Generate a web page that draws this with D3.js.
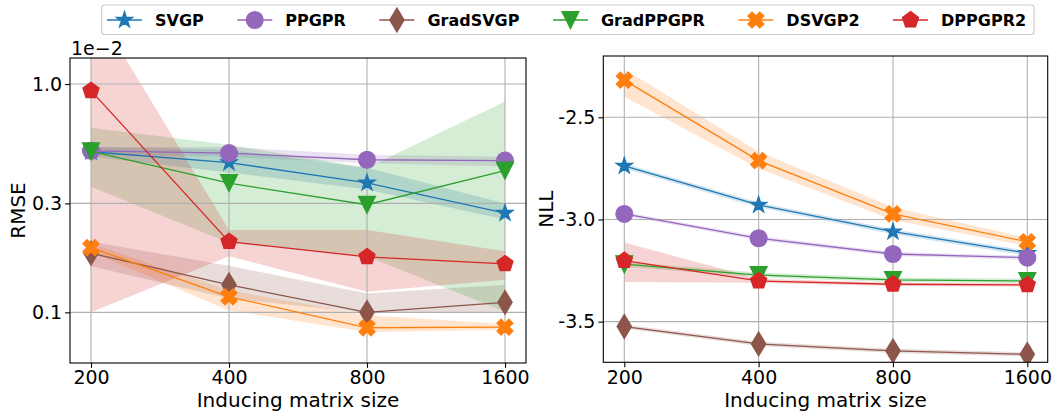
<!DOCTYPE html>
<html><head><meta charset="utf-8">
<script src="https://cdn.jsdelivr.net/npm/d3@7"></script>
<style>
  body { margin: 0; background: #fff; }
  svg { font-family: "DejaVu Sans", sans-serif; }
</style>
</head><body>
<svg id="chart" width="1056" height="413"></svg>
<script>
// Inducing matrix sizes on the x axis
const sizes = [200, 400, 800, 1600];
const sizeLabels = ["200", "400", "800", "1600"];

const methods = ["SVGP", "PPGPR", "GradSVGP", "GradPPGPR", "DSVGP2", "DPPGPR2"];
const colors = ["#1f77b4", "#9467bd", "#8c564b", "#2ca02c", "#ff7f0e", "#d62728"];
const markers = ["star", "circle", "thin_diamond", "tri_down", "x", "pentagon"];

// RMSE (in units of 1e-2): mean, lower and upper band
const svgpRmse = [0.505, 0.453, 0.369, 0.272];
const svgpRmseLo = [0.48, 0.41, 0.345, 0.255];
const svgpRmseHi = [0.53, 0.515, 0.43, 0.30];
const ppgprRmse = [0.51, 0.498, 0.466, 0.462];
const ppgprRmseLo = [0.49, 0.48, 0.45, 0.435];
const ppgprRmseHi = [0.53, 0.53, 0.49, 0.48];
const gradSvgpRmse = [0.1815, 0.132, 0.100, 0.1106];
const gradSvgpRmseLo = [0.159, 0.115, 0.0993, 0.1006];
const gradSvgpRmseHi = [0.204, 0.16, 0.121, 0.132];
const gradPpgprRmse = [0.507, 0.368, 0.296, 0.418];
const gradPpgprRmseLo = [0.355, 0.201, 0.176, 0.1006];
const gradPpgprRmseHi = [0.643, 0.542, 0.43, 0.839];
const dsvgp2Rmse = [0.192, 0.117, 0.0856, 0.0862];
const dsvgp2RmseLo = [0.184, 0.102, 0.082, 0.084];
const dsvgp2RmseHi = [0.20, 0.125, 0.097, 0.089];
const dppgpr2Rmse = [0.935, 0.204, 0.175, 0.163];
const dppgpr2RmseLo = [0.1, 0.176, 0.123, 0.139];
const dppgpr2RmseHi = [2.3, 0.2297, 0.2297, 0.185];

// NLL: mean, lower and upper band
const svgpNll = [-2.738, -2.929, -3.060, -3.165];
const svgpNllLo = [-2.750, -2.941, -3.072, -3.177];
const svgpNllHi = [-2.726, -2.917, -3.048, -3.153];
const ppgprNll = [-2.973, -3.092, -3.169, -3.187];
const ppgprNllLo = [-2.983, -3.102, -3.179, -3.197];
const ppgprNllHi = [-2.963, -3.082, -3.159, -3.177];
const gradSvgpNll = [-3.524, -3.609, -3.643, -3.660];
const gradSvgpNllLo = [-3.534, -3.619, -3.653, -3.670];
const gradSvgpNllHi = [-3.514, -3.599, -3.633, -3.650];
const gradPpgprNll = [-3.219, -3.272, -3.296, -3.301];
const gradPpgprNllLo = [-3.231, -3.284, -3.306, -3.311];
const gradPpgprNllHi = [-3.207, -3.260, -3.284, -3.289];
const dsvgp2Nll = [-2.318, -2.712, -2.973, -3.109];
const dsvgp2NllLo = [-2.399, -2.750, -3.002, -3.130];
const dsvgp2NllHi = [-2.264, -2.668, -2.940, -3.090];
const dppgpr2Nll = [-3.201, -3.301, -3.317, -3.320];
const dppgpr2NllLo = [-3.306, -3.310, -3.325, -3.328];
const dppgpr2NllHi = [-3.113, -3.290, -3.310, -3.312];

// Axis ticks
const rmseTicks = [1.0, 0.3, 0.1];
const rmseTickLabels = ["1.0", "0.3", "0.1"];
const rmseOffsetLabel = "1e\u22122";
const nllTicks = [-2.5, -3.0, -3.5];
const nllTickLabels = ["-2.5", "-3.0", "-3.5"];

const rmseSeries = [
  [svgpRmse, svgpRmseLo, svgpRmseHi],
  [ppgprRmse, ppgprRmseLo, ppgprRmseHi],
  [gradSvgpRmse, gradSvgpRmseLo, gradSvgpRmseHi],
  [gradPpgprRmse, gradPpgprRmseLo, gradPpgprRmseHi],
  [dsvgp2Rmse, dsvgp2RmseLo, dsvgp2RmseHi],
  [dppgpr2Rmse, dppgpr2RmseLo, dppgpr2RmseHi]
];
const nllSeries = [
  [svgpNll, svgpNllLo, svgpNllHi],
  [ppgprNll, ppgprNllLo, ppgprNllHi],
  [gradSvgpNll, gradSvgpNllLo, gradSvgpNllHi],
  [gradPpgprNll, gradPpgprNllLo, gradPpgprNllHi],
  [dsvgp2Nll, dsvgp2NllLo, dsvgp2NllHi],
  [dppgpr2Nll, dppgpr2NllLo, dppgpr2NllHi]
];

const MS = 16.7;   // marker size (px)
const MEW = 1.4;   // marker edge width

// Marker shapes centred on the origin
function markerPath(type, s) {
  const p = d3.path();
  const poly = pts => { pts.forEach((q, i) => i ? p.lineTo(q[0], q[1]) : p.moveTo(q[0], q[1])); p.closePath(); };
  if (type === "circle") {
    p.arc(0, 0, s / 2, 0, 2 * Math.PI);
  } else if (type === "star") {
    const R = s / 2, r = R * 0.381966, pts = [];
    for (let i = 0; i < 10; i++) {
      const a = -Math.PI / 2 + i * Math.PI / 5, rr = i % 2 ? r : R;
      pts.push([rr * Math.cos(a), rr * Math.sin(a)]);
    }
    poly(pts);
  } else if (type === "pentagon") {
    const R = s / 2, pts = [];
    for (let i = 0; i < 5; i++) {
      const a = -Math.PI / 2 + i * 2 * Math.PI / 5;
      pts.push([R * Math.cos(a), R * Math.sin(a)]);
    }
    poly(pts);
  } else if (type === "thin_diamond") {
    const h = s * Math.SQRT2 / 2, w = 0.6 * h;
    poly([[0, -h], [w, 0], [0, h], [-w, 0]]);
  } else if (type === "tri_down") {
    poly([[0, s / 2], [-s / 2, -s / 2], [s / 2, -s / 2]]);
  } else if (type === "x") {
    const a = s / 2, b = s / 6;
    const plus = [[b, -a], [b, -b], [a, -b], [a, b], [b, b], [b, a], [-b, a], [-b, b], [-a, b], [-a, -b], [-b, -b], [-b, -a]];
    const c = Math.SQRT1_2;
    poly(plus.map(([x, y]) => [(x - y) * c, (x + y) * c]));
  }
  return p.toString();
}

const svg = d3.select("#chart");

function drawPanel(cfg) {
  const { x, y, frame, series, ticks, tickLabels, yLabel, yLabelX, id } = cfg;
  const g = svg.append("g");

  g.append("clipPath").attr("id", id)
    .append("rect").attr("x", frame.l).attr("y", frame.t)
    .attr("width", frame.r - frame.l).attr("height", frame.b - frame.t);

  const plot = g.append("g").attr("clip-path", `url(#${id})`);

  // shaded bands
  const area = d3.area().x((d, i) => x(sizes[i])).y0(d => y(d[0])).y1(d => y(d[1]));
  series.forEach((s, k) => {
    const pts = sizes.map((_, i) => [s[1][i], s[2][i]]);
    plot.append("path").attr("d", area(pts))
      .attr("fill", colors[k]).attr("fill-opacity", 0.2).attr("stroke", "none");
  });

  // grid
  const grid = plot.append("g").attr("stroke", "#b0b0b0").attr("stroke-width", 1.1);
  sizes.forEach(v => grid.append("line").attr("x1", x(v)).attr("x2", x(v)).attr("y1", frame.t).attr("y2", frame.b));
  ticks.forEach(v => grid.append("line").attr("y1", y(v)).attr("y2", y(v)).attr("x1", frame.l).attr("x2", frame.r));

  // lines and markers
  const line = d3.line().x((d, i) => x(sizes[i])).y(d => y(d));
  series.forEach((s, k) => {
    plot.append("path").attr("d", line(s[0])).attr("fill", "none")
      .attr("stroke", colors[k]).attr("stroke-width", 1.3);
    const mp = markerPath(markers[k], MS);
    s[0].forEach((v, i) => {
      plot.append("path").attr("d", mp)
        .attr("transform", `translate(${x(sizes[i])},${y(v)})`)
        .attr("fill", colors[k]).attr("stroke", colors[k]).attr("stroke-width", MEW)
        .attr("stroke-linejoin", "miter");
    });
  });

  // frame
  g.append("rect").attr("x", frame.l).attr("y", frame.t)
    .attr("width", frame.r - frame.l).attr("height", frame.b - frame.t)
    .attr("fill", "none").attr("stroke", "#000").attr("stroke-width", 1.1);

  // x axis ticks
  const xAxis = g.append("g").attr("transform", `translate(0,${frame.b})`)
    .call(d3.axisBottom(x).tickValues(sizes).tickFormat((d, i) => sizeLabels[i]).tickSize(4.9).tickPadding(3));
  xAxis.select(".domain").remove();
  xAxis.selectAll("line").attr("stroke", "#000").attr("stroke-width", 1.1);
  xAxis.selectAll("text").attr("font-size", 19).attr("fill", "#000").attr("font-family", "DejaVu Sans");

  // y axis ticks
  const yAxis = g.append("g").attr("transform", `translate(${frame.l},0)`)
    .call(d3.axisLeft(y).tickValues(ticks).tickFormat((d, i) => tickLabels[i]).tickSize(4.9).tickPadding(3));
  yAxis.select(".domain").remove();
  yAxis.selectAll("line").attr("stroke", "#000").attr("stroke-width", 1.1);
  yAxis.selectAll("text").attr("font-size", 19).attr("fill", "#000").attr("font-family", "DejaVu Sans");

  // axis titles
  g.append("text").attr("x", (frame.l + frame.r) / 2).attr("y", 407)
    .attr("text-anchor", "middle").attr("font-size", 20).text("Inducing matrix size");
  g.append("text").attr("transform", `translate(${yLabelX},${(frame.t + frame.b) / 2}) rotate(-90)`)
    .attr("text-anchor", "middle").attr("font-size", 20).text(yLabel);
  return g;
}

// Left panel: RMSE on a log scale
const leftFrame = { l: 70, r: 526, t: 58, b: 363 };
const xLeft = d3.scaleLog().base(2).domain([200, 1600]).range([91, 505]);
const yLeft = d3.scaleLog().domain([0.06, 1.3]).range([leftFrame.b, leftFrame.t]);
const gl = drawPanel({ x: xLeft, y: yLeft, frame: leftFrame, series: rmseSeries,
  ticks: rmseTicks, tickLabels: rmseTickLabels, yLabel: "RMSE", yLabelX: 25, id: "clipL" });
gl.append("text").attr("x", 71).attr("y", 55).attr("font-size", 19).text(rmseOffsetLabel);

// Right panel: NLL on a linear scale
const rightFrame = { l: 603.3, r: 1047.7, t: 56, b: 362.3 };
const xRight = d3.scaleLog().base(2).domain([200, 1600]).range([624.3, 1027.3]);
const yRight = d3.scaleLinear().domain([-3.699, -2.2]).range([rightFrame.b, rightFrame.t]);
drawPanel({ x: xRight, y: yRight, frame: rightFrame, series: nllSeries,
  ticks: nllTicks, tickLabels: nllTickLabels, yLabel: "NLL", yLabelX: 553, id: "clipR" });

// Legend across the top
const legend = svg.append("g");
const box = legend.append("rect").attr("y", 5).attr("height", 29.5).attr("rx", 3)
  .attr("fill", "#fff").attr("fill-opacity", 0.8).attr("stroke", "#cccccc").attr("stroke-width", 1.1);
let lx = 107;
const ly = 20;
methods.forEach((m, k) => {
  legend.append("line").attr("x1", lx).attr("x2", lx + 35).attr("y1", ly).attr("y2", ly)
    .attr("stroke", colors[k]).attr("stroke-width", 1.3);
  legend.append("path").attr("d", markerPath(markers[k], MS))
    .attr("transform", `translate(${lx + 17.5},${ly})`)
    .attr("fill", colors[k]).attr("stroke", colors[k]).attr("stroke-width", MEW);
  const t = legend.append("text").attr("x", lx + 48).attr("y", ly + 5.8)
    .attr("font-size", 16).attr("font-weight", "bold").text(m);
  lx = lx + 48 + t.node().getComputedTextLength() + 33.5;
});
box.attr("x", 101.7).attr("width", lx - 33.5 + 8 - 101.7);
</script>
</body></html>
